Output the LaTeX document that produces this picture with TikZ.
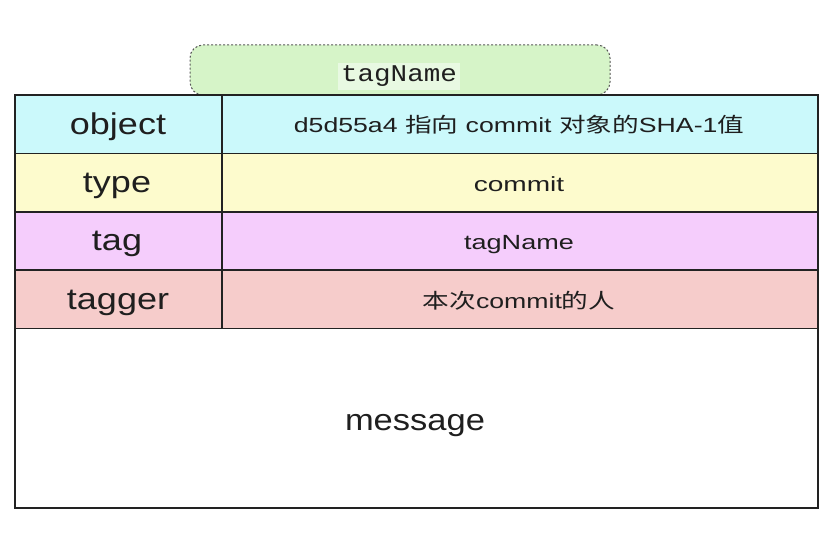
\documentclass[tikz,border=0pt]{standalone}
\usepackage{fontspec}
\setmainfont{Liberation Sans}
\newfontfamily\cjk{Noto Sans CJK SC}
\newfontfamily\monof{Liberation Mono}
\definecolor{cyanc}{HTML}{CBF9FB}
\definecolor{yellowc}{HTML}{FDFBCD}
\definecolor{pinkc}{HTML}{F5CDFC}
\definecolor{redc}{HTML}{F6CCCB}
\definecolor{greenc}{HTML}{D6F4C8}
\definecolor{greenlt}{HTML}{E8F9E2}
\definecolor{linec}{HTML}{222222}
\newcommand\hsc[2]{\scalebox{#1}[1]{#2}}
\tikzset{
  cell/.style={draw=linec, line width=1.5pt, inner sep=0pt, outer sep=0pt},
  leftcell/.style={cell, minimum width=207pt, minimum height=58.4pt},
  rightcell/.style={cell, minimum width=596pt, minimum height=58.4pt},
  bigtxt/.style={anchor=base, inner sep=0pt, text=black!88, font=\fontsize{30}{36}\selectfont},
  smalltxt/.style={anchor=base, inner sep=0pt, text=black!88, font=\fontsize{20.5}{24}\selectfont},
  tagbox/.style={draw=black!65, dashed, dash pattern=on 2pt off 2pt, line width=1pt, fill=greenc, rounded corners=13pt, minimum width=420pt, minimum height=50pt, inner sep=0pt},
}
\begin{document}
\begin{tikzpicture}[x=1pt,y=-1pt]
\useasboundingbox (0,0) rectangle (831,534);
\node[tagbox] (tagb) at (400,70) {};
\node[fill=greenlt, anchor=base, inner sep=3pt, text=black!88, font=\monof\fontsize{24}{28}\selectfont] (tagt) at (399,82) {\hsc{1.15}{tagName}};
\node[leftcell, fill=cyanc] (objL) at (118.5,124.2) {};
\node[rightcell, fill=cyanc] (objR) at (520,124.2) {};
\node[leftcell, fill=yellowc] (typL) at (118.5,182.6) {};
\node[rightcell, fill=yellowc] (typR) at (520,182.6) {};
\node[leftcell, fill=pinkc] (tagL) at (118.5,241) {};
\node[rightcell, fill=pinkc] (tagR) at (520,241) {};
\node[leftcell, fill=redc] (tgrL) at (118.5,299.4) {};
\node[rightcell, fill=redc] (tgrR) at (520,299.4) {};
\node[cell, fill=white, minimum width=803pt, minimum height=179.4pt] (msg) at (416.5,418.3) {};
\node[bigtxt] (objLt) at (118,135) {\hsc{1.2}{object}};
\node[bigtxt] (typLt) at (117,192.5) {\hsc{1.2}{type}};
\node[bigtxt] (tagLt) at (117,251) {\hsc{1.2}{tag}};
\node[bigtxt] (tgrLt) at (118,309.5) {\hsc{1.2}{tagger}};
\node[smalltxt] (objRt) at (519,133) {\hsc{1.3}{d5d55a4 {\cjk 指向} commit {\cjk 对象的}SHA-1{\cjk 值}}};
\node[smalltxt] (typRt) at (519,191.5) {\hsc{1.37}{commit}};
\node[smalltxt] (tagRt) at (519,250) {\hsc{1.32}{tagName}};
\node[smalltxt] (tgrRt) at (519,308.5) {\hsc{1.3}{{\cjk 本次}commit{\cjk 的人}}};
\node[bigtxt] (msgt) at (415,431) {\hsc{1.15}{message}};
\end{tikzpicture}
\end{document}
